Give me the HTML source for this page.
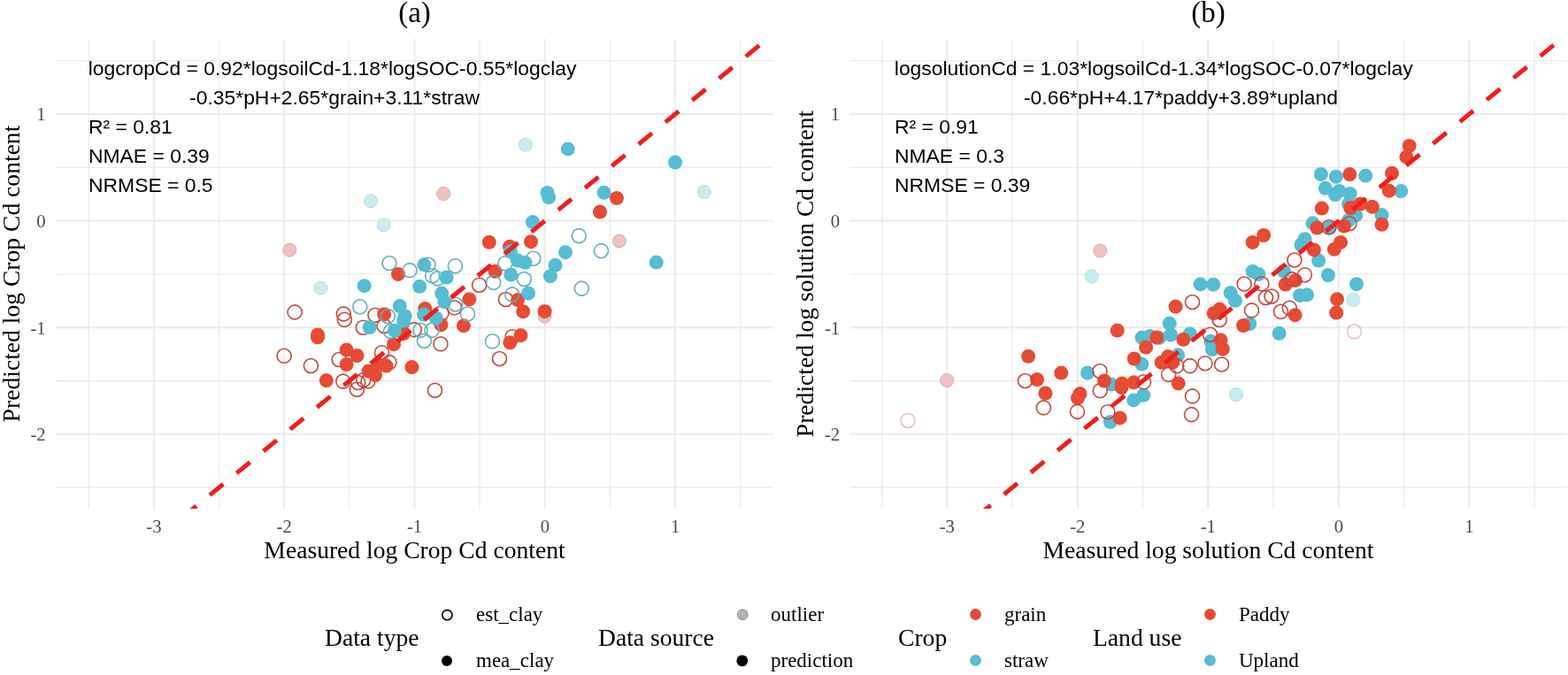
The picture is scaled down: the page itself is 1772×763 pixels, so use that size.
<!DOCTYPE html>
<html><head><meta charset="utf-8"><style>
html,body{margin:0;padding:0;background:#fff;width:1772px;height:763px;overflow:hidden}
svg{display:block}
.tk{font-family:"Liberation Serif",serif;font-size:20.7px;fill:#4D4D4D}
.ti{font-family:"Liberation Serif",serif;font-size:33px;fill:#000}
.ax{font-family:"Liberation Serif",serif;font-size:27.6px;fill:#000}
.lt{font-family:"Liberation Serif",serif;font-size:27.6px;fill:#000}
.ll{font-family:"Liberation Serif",serif;font-size:23px;fill:#000}
.an{font-family:"Liberation Sans",sans-serif;font-size:22.9px;fill:#000}
</style></head><body>
<svg width="1772" height="763" viewBox="0 0 1772 763">
<rect width="1772" height="763" fill="#fff"/>
<clipPath id="cl"><rect x="63" y="44" width="811" height="531"/></clipPath>
<line x1="100.2" y1="44" x2="100.2" y2="575" stroke="#EBEBEB" stroke-width="1.3"/>
<line x1="247.5" y1="44" x2="247.5" y2="575" stroke="#EBEBEB" stroke-width="1.3"/>
<line x1="394.8" y1="44" x2="394.8" y2="575" stroke="#EBEBEB" stroke-width="1.3"/>
<line x1="542.1" y1="44" x2="542.1" y2="575" stroke="#EBEBEB" stroke-width="1.3"/>
<line x1="689.4" y1="44" x2="689.4" y2="575" stroke="#EBEBEB" stroke-width="1.3"/>
<line x1="836.8" y1="44" x2="836.8" y2="575" stroke="#EBEBEB" stroke-width="1.3"/>
<line x1="63" y1="68.7" x2="874" y2="68.7" stroke="#EBEBEB" stroke-width="1.3"/>
<line x1="63" y1="189.3" x2="874" y2="189.3" stroke="#EBEBEB" stroke-width="1.3"/>
<line x1="63" y1="309.9" x2="874" y2="309.9" stroke="#EBEBEB" stroke-width="1.3"/>
<line x1="63" y1="430.5" x2="874" y2="430.5" stroke="#EBEBEB" stroke-width="1.3"/>
<line x1="63" y1="551.0" x2="874" y2="551.0" stroke="#EBEBEB" stroke-width="1.3"/>
<line x1="173.9" y1="44" x2="173.9" y2="575" stroke="#EBEBEB" stroke-width="2"/>
<line x1="321.2" y1="44" x2="321.2" y2="575" stroke="#EBEBEB" stroke-width="2"/>
<line x1="468.5" y1="44" x2="468.5" y2="575" stroke="#EBEBEB" stroke-width="2"/>
<line x1="615.8" y1="44" x2="615.8" y2="575" stroke="#EBEBEB" stroke-width="2"/>
<line x1="763.1" y1="44" x2="763.1" y2="575" stroke="#EBEBEB" stroke-width="2"/>
<line x1="63" y1="129.0" x2="874" y2="129.0" stroke="#EBEBEB" stroke-width="2"/>
<line x1="63" y1="249.6" x2="874" y2="249.6" stroke="#EBEBEB" stroke-width="2"/>
<line x1="63" y1="370.2" x2="874" y2="370.2" stroke="#EBEBEB" stroke-width="2"/>
<line x1="63" y1="490.7" x2="874" y2="490.7" stroke="#EBEBEB" stroke-width="2"/>
<clipPath id="cr"><rect x="960.5" y="44" width="810.0999999999999" height="531"/></clipPath>
<line x1="996.5" y1="44" x2="996.5" y2="575" stroke="#EBEBEB" stroke-width="1.3"/>
<line x1="1144.0" y1="44" x2="1144.0" y2="575" stroke="#EBEBEB" stroke-width="1.3"/>
<line x1="1291.5" y1="44" x2="1291.5" y2="575" stroke="#EBEBEB" stroke-width="1.3"/>
<line x1="1439.0" y1="44" x2="1439.0" y2="575" stroke="#EBEBEB" stroke-width="1.3"/>
<line x1="1586.5" y1="44" x2="1586.5" y2="575" stroke="#EBEBEB" stroke-width="1.3"/>
<line x1="1734.0" y1="44" x2="1734.0" y2="575" stroke="#EBEBEB" stroke-width="1.3"/>
<line x1="960.5" y1="68.7" x2="1770.6" y2="68.7" stroke="#EBEBEB" stroke-width="1.3"/>
<line x1="960.5" y1="189.3" x2="1770.6" y2="189.3" stroke="#EBEBEB" stroke-width="1.3"/>
<line x1="960.5" y1="309.9" x2="1770.6" y2="309.9" stroke="#EBEBEB" stroke-width="1.3"/>
<line x1="960.5" y1="430.5" x2="1770.6" y2="430.5" stroke="#EBEBEB" stroke-width="1.3"/>
<line x1="960.5" y1="551.0" x2="1770.6" y2="551.0" stroke="#EBEBEB" stroke-width="1.3"/>
<line x1="1070.3" y1="44" x2="1070.3" y2="575" stroke="#EBEBEB" stroke-width="2"/>
<line x1="1217.8" y1="44" x2="1217.8" y2="575" stroke="#EBEBEB" stroke-width="2"/>
<line x1="1365.3" y1="44" x2="1365.3" y2="575" stroke="#EBEBEB" stroke-width="2"/>
<line x1="1512.8" y1="44" x2="1512.8" y2="575" stroke="#EBEBEB" stroke-width="2"/>
<line x1="1660.3" y1="44" x2="1660.3" y2="575" stroke="#EBEBEB" stroke-width="2"/>
<line x1="960.5" y1="129.0" x2="1770.6" y2="129.0" stroke="#EBEBEB" stroke-width="2"/>
<line x1="960.5" y1="249.6" x2="1770.6" y2="249.6" stroke="#EBEBEB" stroke-width="2"/>
<line x1="960.5" y1="370.2" x2="1770.6" y2="370.2" stroke="#EBEBEB" stroke-width="2"/>
<line x1="960.5" y1="490.7" x2="1770.6" y2="490.7" stroke="#EBEBEB" stroke-width="2"/>
<text x="173.9" y="601.9" class="tk" text-anchor="middle">-3</text>
<text x="321.2" y="601.9" class="tk" text-anchor="middle">-2</text>
<text x="468.5" y="601.9" class="tk" text-anchor="middle">-1</text>
<text x="615.8" y="601.9" class="tk" text-anchor="middle">0</text>
<text x="763.1" y="601.9" class="tk" text-anchor="middle">1</text>
<text x="51.7" y="136.3" class="tk" text-anchor="end">1</text>
<text x="51.7" y="256.9" class="tk" text-anchor="end">0</text>
<text x="51.7" y="377.5" class="tk" text-anchor="end">-1</text>
<text x="51.7" y="498.0" class="tk" text-anchor="end">-2</text>
<text x="1070.3" y="601.9" class="tk" text-anchor="middle">-3</text>
<text x="1217.8" y="601.9" class="tk" text-anchor="middle">-2</text>
<text x="1365.3" y="601.9" class="tk" text-anchor="middle">-1</text>
<text x="1512.8" y="601.9" class="tk" text-anchor="middle">0</text>
<text x="1660.3" y="601.9" class="tk" text-anchor="middle">1</text>
<text x="949.2" y="136.3" class="tk" text-anchor="end">1</text>
<text x="949.2" y="256.9" class="tk" text-anchor="end">0</text>
<text x="949.2" y="377.5" class="tk" text-anchor="end">-1</text>
<text x="949.2" y="498.0" class="tk" text-anchor="end">-2</text>
<g clip-path="url(#cl)">
<circle cx="501.2" cy="219.0" r="7.6" fill="#EDC3C0" stroke="#DDAEAD" stroke-width="1"/>
<circle cx="327.3" cy="282.6" r="7.6" fill="#EDC3C0" stroke="#DDAEAD" stroke-width="1"/>
<circle cx="700.0" cy="272.5" r="7.6" fill="#EDC3C0" stroke="#DDAEAD" stroke-width="1"/>
<circle cx="615.6" cy="357.5" r="7.6" fill="#EDC3C0" stroke="#DDAEAD" stroke-width="1"/>
<circle cx="419.0" cy="227.2" r="7.6" fill="#C8EDF0" stroke="#B8E0E4" stroke-width="1"/>
<circle cx="593.9" cy="163.6" r="7.6" fill="#C8EDF0" stroke="#B8E0E4" stroke-width="1"/>
<circle cx="795.9" cy="217.1" r="7.6" fill="#C8EDF0" stroke="#B8E0E4" stroke-width="1"/>
<circle cx="433.7" cy="254.4" r="7.6" fill="#C8EDF0" stroke="#B8E0E4" stroke-width="1"/>
<circle cx="362.3" cy="325.5" r="7.6" fill="#C8EDF0" stroke="#B8E0E4" stroke-width="1"/>
<circle cx="333.1" cy="352.9" r="8.0" fill="none" stroke="#C4483D" stroke-width="1.6"/>
<circle cx="388.3" cy="354.9" r="8.0" fill="none" stroke="#C4483D" stroke-width="1.6"/>
<circle cx="389.3" cy="361.3" r="8.0" fill="none" stroke="#C4483D" stroke-width="1.6"/>
<circle cx="410.3" cy="370.2" r="8.0" fill="none" stroke="#C4483D" stroke-width="1.6"/>
<circle cx="423.9" cy="356.2" r="8.0" fill="none" stroke="#C4483D" stroke-width="1.6"/>
<circle cx="434.0" cy="368.5" r="8.0" fill="none" stroke="#C4483D" stroke-width="1.6"/>
<circle cx="321.1" cy="402.3" r="8.0" fill="none" stroke="#C4483D" stroke-width="1.6"/>
<circle cx="351.4" cy="413.5" r="8.0" fill="none" stroke="#C4483D" stroke-width="1.6"/>
<circle cx="383.2" cy="406.5" r="8.0" fill="none" stroke="#C4483D" stroke-width="1.6"/>
<circle cx="387.8" cy="431.1" r="8.0" fill="none" stroke="#C4483D" stroke-width="1.6"/>
<circle cx="403.4" cy="440.2" r="8.0" fill="none" stroke="#C4483D" stroke-width="1.6"/>
<circle cx="404.7" cy="432.5" r="8.0" fill="none" stroke="#C4483D" stroke-width="1.6"/>
<circle cx="410.8" cy="429.5" r="8.0" fill="none" stroke="#C4483D" stroke-width="1.6"/>
<circle cx="416.0" cy="430.8" r="8.0" fill="none" stroke="#C4483D" stroke-width="1.6"/>
<circle cx="431.5" cy="398.7" r="8.0" fill="none" stroke="#C4483D" stroke-width="1.6"/>
<circle cx="440.0" cy="409.6" r="8.0" fill="none" stroke="#C4483D" stroke-width="1.6"/>
<circle cx="468.3" cy="372.6" r="8.0" fill="none" stroke="#C4483D" stroke-width="1.6"/>
<circle cx="498.0" cy="388.8" r="8.0" fill="none" stroke="#C4483D" stroke-width="1.6"/>
<circle cx="491.5" cy="441.2" r="8.0" fill="none" stroke="#C4483D" stroke-width="1.6"/>
<circle cx="564.5" cy="405.5" r="8.0" fill="none" stroke="#C4483D" stroke-width="1.6"/>
<circle cx="541.6" cy="322.2" r="8.0" fill="none" stroke="#C4483D" stroke-width="1.6"/>
<circle cx="571.5" cy="338.5" r="8.0" fill="none" stroke="#C4483D" stroke-width="1.6"/>
<circle cx="579.0" cy="380.7" r="8.0" fill="none" stroke="#C4483D" stroke-width="1.6"/>
<circle cx="513.6" cy="347.8" r="8.0" fill="none" stroke="#C4483D" stroke-width="1.6"/>
<circle cx="499.0" cy="354.0" r="8.0" fill="none" stroke="#C4483D" stroke-width="1.6"/>
<circle cx="697.0" cy="223.9" r="8" fill="#E64B35"/>
<circle cx="678.0" cy="239.5" r="8" fill="#E64B35"/>
<circle cx="450.0" cy="309.9" r="8" fill="#E64B35"/>
<circle cx="552.8" cy="273.8" r="8" fill="#E64B35"/>
<circle cx="576.0" cy="278.8" r="8" fill="#E64B35"/>
<circle cx="600.0" cy="273.2" r="8" fill="#E64B35"/>
<circle cx="559.6" cy="306.8" r="8" fill="#E64B35"/>
<circle cx="359.0" cy="378.5" r="8" fill="#E64B35"/>
<circle cx="359.0" cy="381.3" r="8" fill="#E64B35"/>
<circle cx="434.1" cy="355.2" r="8" fill="#E64B35"/>
<circle cx="456.0" cy="377.0" r="8" fill="#E64B35"/>
<circle cx="480.3" cy="349.0" r="8" fill="#E64B35"/>
<circle cx="498.5" cy="367.2" r="8" fill="#E64B35"/>
<circle cx="391.6" cy="395.4" r="8" fill="#E64B35"/>
<circle cx="403.5" cy="402.0" r="8" fill="#E64B35"/>
<circle cx="391.6" cy="412.0" r="8" fill="#E64B35"/>
<circle cx="368.8" cy="430.1" r="8" fill="#E64B35"/>
<circle cx="445.0" cy="389.2" r="8" fill="#E64B35"/>
<circle cx="436.5" cy="413.6" r="8" fill="#E64B35"/>
<circle cx="428.7" cy="412.3" r="8" fill="#E64B35"/>
<circle cx="416.5" cy="419.5" r="8" fill="#E64B35"/>
<circle cx="424.0" cy="424.0" r="8" fill="#E64B35"/>
<circle cx="465.4" cy="415.1" r="8" fill="#E64B35"/>
<circle cx="530.4" cy="338.3" r="8" fill="#E64B35"/>
<circle cx="523.9" cy="368.2" r="8" fill="#E64B35"/>
<circle cx="585.2" cy="339.0" r="8" fill="#E64B35"/>
<circle cx="591.2" cy="352.2" r="8" fill="#E64B35"/>
<circle cx="615.6" cy="351.9" r="8" fill="#E64B35"/>
<circle cx="588.5" cy="379.1" r="8" fill="#E64B35"/>
<circle cx="576.3" cy="387.3" r="8" fill="#E64B35"/>
<circle cx="440.0" cy="297.5" r="8.0" fill="none" stroke="#62AEB8" stroke-width="1.6"/>
<circle cx="463.1" cy="305.6" r="8.0" fill="none" stroke="#62AEB8" stroke-width="1.6"/>
<circle cx="488.7" cy="311.7" r="8.0" fill="none" stroke="#62AEB8" stroke-width="1.6"/>
<circle cx="494.3" cy="314.9" r="8.0" fill="none" stroke="#62AEB8" stroke-width="1.6"/>
<circle cx="514.4" cy="300.7" r="8.0" fill="none" stroke="#62AEB8" stroke-width="1.6"/>
<circle cx="406.8" cy="346.8" r="8.0" fill="none" stroke="#62AEB8" stroke-width="1.6"/>
<circle cx="441.5" cy="374.5" r="8.0" fill="none" stroke="#62AEB8" stroke-width="1.6"/>
<circle cx="475.0" cy="373.3" r="8.0" fill="none" stroke="#62AEB8" stroke-width="1.6"/>
<circle cx="488.0" cy="373.3" r="8.0" fill="none" stroke="#62AEB8" stroke-width="1.6"/>
<circle cx="479.4" cy="385.2" r="8.0" fill="none" stroke="#62AEB8" stroke-width="1.6"/>
<circle cx="514.7" cy="344.0" r="8.0" fill="none" stroke="#62AEB8" stroke-width="1.6"/>
<circle cx="528.5" cy="354.8" r="8.0" fill="none" stroke="#62AEB8" stroke-width="1.6"/>
<circle cx="570.9" cy="297.7" r="8.0" fill="none" stroke="#62AEB8" stroke-width="1.6"/>
<circle cx="602.8" cy="292.2" r="8.0" fill="none" stroke="#62AEB8" stroke-width="1.6"/>
<circle cx="557.7" cy="319.3" r="8.0" fill="none" stroke="#62AEB8" stroke-width="1.6"/>
<circle cx="592.4" cy="315.5" r="8.0" fill="none" stroke="#62AEB8" stroke-width="1.6"/>
<circle cx="578.8" cy="332.9" r="8.0" fill="none" stroke="#62AEB8" stroke-width="1.6"/>
<circle cx="556.5" cy="385.8" r="8.0" fill="none" stroke="#62AEB8" stroke-width="1.6"/>
<circle cx="654.3" cy="266.6" r="8.0" fill="none" stroke="#62AEB8" stroke-width="1.6"/>
<circle cx="679.4" cy="283.6" r="8.0" fill="none" stroke="#62AEB8" stroke-width="1.6"/>
<circle cx="657.3" cy="326.1" r="8.0" fill="none" stroke="#62AEB8" stroke-width="1.6"/>
<circle cx="641.8" cy="168.4" r="8" fill="#56BDD3"/>
<circle cx="763.0" cy="183.6" r="8" fill="#56BDD3"/>
<circle cx="618.5" cy="218" r="8" fill="#56BDD3"/>
<circle cx="620.1" cy="223.2" r="8" fill="#56BDD3"/>
<circle cx="682.7" cy="217.8" r="8" fill="#56BDD3"/>
<circle cx="479.4" cy="299.3" r="8" fill="#56BDD3"/>
<circle cx="504.6" cy="313.6" r="8" fill="#56BDD3"/>
<circle cx="474.2" cy="323.8" r="8" fill="#56BDD3"/>
<circle cx="411.7" cy="323.2" r="8" fill="#56BDD3"/>
<circle cx="499.2" cy="331.6" r="8" fill="#56BDD3"/>
<circle cx="502.2" cy="341.1" r="8" fill="#56BDD3"/>
<circle cx="602.0" cy="251.1" r="8" fill="#56BDD3"/>
<circle cx="577.0" cy="284.3" r="8" fill="#56BDD3"/>
<circle cx="639.0" cy="285.2" r="8" fill="#56BDD3"/>
<circle cx="627.5" cy="299.8" r="8" fill="#56BDD3"/>
<circle cx="621.9" cy="312.2" r="8" fill="#56BDD3"/>
<circle cx="585.0" cy="294.6" r="8" fill="#56BDD3"/>
<circle cx="593.4" cy="296.8" r="8" fill="#56BDD3"/>
<circle cx="577.3" cy="310.5" r="8" fill="#56BDD3"/>
<circle cx="597.1" cy="331.4" r="8" fill="#56BDD3"/>
<circle cx="741.7" cy="296.6" r="8" fill="#56BDD3"/>
<circle cx="417.7" cy="370.0" r="8" fill="#56BDD3"/>
<circle cx="451.8" cy="346.1" r="8" fill="#56BDD3"/>
<circle cx="457.7" cy="357.2" r="8" fill="#56BDD3"/>
<circle cx="456.2" cy="362.8" r="8" fill="#56BDD3"/>
<circle cx="445.9" cy="373.5" r="8" fill="#56BDD3"/>
<circle cx="479.0" cy="355.6" r="8" fill="#56BDD3"/>
<circle cx="492.8" cy="359.5" r="8" fill="#56BDD3"/>
<circle cx="484.0" cy="299.3" r="8.0" fill="none" stroke="#62AEB8" stroke-width="1.6"/>
<circle cx="438.3" cy="357.5" r="8.0" fill="none" stroke="#62AEB8" stroke-width="1.6"/>
</g>
<g clip-path="url(#cr)">
<circle cx="1070.1" cy="430.0" r="7.6" fill="#EDC3C0" stroke="#DDAEAD" stroke-width="1"/>
<circle cx="1243.3" cy="283.5" r="7.6" fill="#EDC3C0" stroke="#DDAEAD" stroke-width="1"/>
<circle cx="1233.8" cy="312.2" r="7.6" fill="#C8EDF0" stroke="#B8E0E4" stroke-width="1"/>
<circle cx="1396.9" cy="446.1" r="7.6" fill="#C8EDF0" stroke="#B8E0E4" stroke-width="1"/>
<circle cx="1529.4" cy="338.8" r="7.6" fill="#C8EDF0" stroke="#B8E0E4" stroke-width="1"/>
<circle cx="1026.0" cy="475.5" r="8.0" fill="none" stroke="#C4483D" stroke-opacity="0.35" stroke-width="1.6"/>
<circle cx="1530.5" cy="374.8" r="8.0" fill="none" stroke="#C4483D" stroke-opacity="0.35" stroke-width="1.6"/>
<circle cx="1229.0" cy="421.5" r="8" fill="#56BDD3"/>
<circle cx="1256.2" cy="434.6" r="8" fill="#56BDD3"/>
<circle cx="1292.2" cy="446.8" r="8" fill="#56BDD3"/>
<circle cx="1281.2" cy="452.4" r="8" fill="#56BDD3"/>
<circle cx="1254.8" cy="476.9" r="8" fill="#56BDD3"/>
<circle cx="1290.4" cy="411.6" r="8" fill="#56BDD3"/>
<circle cx="1331.1" cy="401.3" r="8" fill="#56BDD3"/>
<circle cx="1290.6" cy="381.6" r="8" fill="#56BDD3"/>
<circle cx="1299.6" cy="380.0" r="8" fill="#56BDD3"/>
<circle cx="1310.0" cy="381.9" r="8" fill="#56BDD3"/>
<circle cx="1321.7" cy="365.6" r="8" fill="#56BDD3"/>
<circle cx="1323.2" cy="378.5" r="8" fill="#56BDD3"/>
<circle cx="1344.8" cy="377.5" r="8" fill="#56BDD3"/>
<circle cx="1368.3" cy="385.8" r="8" fill="#56BDD3"/>
<circle cx="1370.0" cy="395.0" r="8" fill="#56BDD3"/>
<circle cx="1356.5" cy="321.3" r="8" fill="#56BDD3"/>
<circle cx="1371.1" cy="321.7" r="8" fill="#56BDD3"/>
<circle cx="1390.6" cy="331.0" r="8" fill="#56BDD3"/>
<circle cx="1395.9" cy="339.8" r="8" fill="#56BDD3"/>
<circle cx="1415.6" cy="306.7" r="8" fill="#56BDD3"/>
<circle cx="1422.3" cy="310.0" r="8" fill="#56BDD3"/>
<circle cx="1412.2" cy="366.0" r="8" fill="#56BDD3"/>
<circle cx="1451.1" cy="306.5" r="8" fill="#56BDD3"/>
<circle cx="1490.1" cy="294.6" r="8" fill="#56BDD3"/>
<circle cx="1500.9" cy="311.0" r="8" fill="#56BDD3"/>
<circle cx="1469.1" cy="333.9" r="8" fill="#56BDD3"/>
<circle cx="1477.0" cy="333.3" r="8" fill="#56BDD3"/>
<circle cx="1533.0" cy="321.2" r="8" fill="#56BDD3"/>
<circle cx="1445.6" cy="376.8" r="8" fill="#56BDD3"/>
<circle cx="1474.6" cy="270.2" r="8" fill="#56BDD3"/>
<circle cx="1470.4" cy="276.5" r="8" fill="#56BDD3"/>
<circle cx="1483.6" cy="252.3" r="8" fill="#56BDD3"/>
<circle cx="1502.6" cy="257.5" r="8" fill="#56BDD3"/>
<circle cx="1524.2" cy="249.0" r="8" fill="#56BDD3"/>
<circle cx="1532.1" cy="243.7" r="8" fill="#56BDD3"/>
<circle cx="1492.8" cy="197.0" r="8" fill="#56BDD3"/>
<circle cx="1509.9" cy="199.7" r="8" fill="#56BDD3"/>
<circle cx="1543.2" cy="198.6" r="8" fill="#56BDD3"/>
<circle cx="1583.3" cy="216.1" r="8" fill="#56BDD3"/>
<circle cx="1497.9" cy="212.8" r="8" fill="#56BDD3"/>
<circle cx="1509.0" cy="220.0" r="8" fill="#56BDD3"/>
<circle cx="1513.4" cy="216.0" r="8" fill="#56BDD3"/>
<circle cx="1525.7" cy="219.0" r="8" fill="#56BDD3"/>
<circle cx="1524.2" cy="230.5" r="8" fill="#56BDD3"/>
<circle cx="1561.5" cy="243.1" r="8" fill="#56BDD3"/>
<circle cx="1162.1" cy="402.8" r="8" fill="#E64B35"/>
<circle cx="1172.0" cy="429.0" r="8" fill="#E64B35"/>
<circle cx="1199.2" cy="421.6" r="8" fill="#E64B35"/>
<circle cx="1181.4" cy="444.5" r="8" fill="#E64B35"/>
<circle cx="1220.5" cy="445.1" r="8" fill="#E64B35"/>
<circle cx="1218.0" cy="449.8" r="8" fill="#E64B35"/>
<circle cx="1247.9" cy="430.5" r="8" fill="#E64B35"/>
<circle cx="1268.0" cy="433.5" r="8" fill="#E64B35"/>
<circle cx="1267.5" cy="438.0" r="8" fill="#E64B35"/>
<circle cx="1281.2" cy="432.3" r="8" fill="#E64B35"/>
<circle cx="1265.6" cy="472.4" r="8" fill="#E64B35"/>
<circle cx="1281.7" cy="405.5" r="8" fill="#E64B35"/>
<circle cx="1295.1" cy="392.5" r="8" fill="#E64B35"/>
<circle cx="1312.7" cy="409.7" r="8" fill="#E64B35"/>
<circle cx="1319.9" cy="403.1" r="8" fill="#E64B35"/>
<circle cx="1325.2" cy="409.7" r="8" fill="#E64B35"/>
<circle cx="1331.7" cy="433.3" r="8" fill="#E64B35"/>
<circle cx="1337.3" cy="383.8" r="8" fill="#E64B35"/>
<circle cx="1381.8" cy="394.4" r="8" fill="#E64B35"/>
<circle cx="1379.5" cy="384.3" r="8" fill="#E64B35"/>
<circle cx="1262.7" cy="373.6" r="8" fill="#E64B35"/>
<circle cx="1307.1" cy="381.5" r="8" fill="#E64B35"/>
<circle cx="1328.5" cy="346.6" r="8" fill="#E64B35"/>
<circle cx="1371.7" cy="354.2" r="8" fill="#E64B35"/>
<circle cx="1378.3" cy="349.6" r="8" fill="#E64B35"/>
<circle cx="1405.1" cy="368.0" r="8" fill="#E64B35"/>
<circle cx="1452.7" cy="321.5" r="8" fill="#E64B35"/>
<circle cx="1463.9" cy="316.9" r="8" fill="#E64B35"/>
<circle cx="1463.6" cy="356.2" r="8" fill="#E64B35"/>
<circle cx="1511.1" cy="338.2" r="8" fill="#E64B35"/>
<circle cx="1510.2" cy="353.6" r="8" fill="#E64B35"/>
<circle cx="1428.1" cy="266.0" r="8" fill="#E64B35"/>
<circle cx="1415.6" cy="273.9" r="8" fill="#E64B35"/>
<circle cx="1484.9" cy="282.4" r="8" fill="#E64B35"/>
<circle cx="1493.8" cy="235.6" r="8" fill="#E64B35"/>
<circle cx="1488.5" cy="257.5" r="8" fill="#E64B35"/>
<circle cx="1518.9" cy="255.5" r="8" fill="#E64B35"/>
<circle cx="1515.0" cy="273.9" r="8" fill="#E64B35"/>
<circle cx="1507.8" cy="281.8" r="8" fill="#E64B35"/>
<circle cx="1525.3" cy="197.1" r="8" fill="#E64B35"/>
<circle cx="1573.0" cy="195.8" r="8" fill="#E64B35"/>
<circle cx="1569.8" cy="215.7" r="8" fill="#E64B35"/>
<circle cx="1526.2" cy="235.0" r="8" fill="#E64B35"/>
<circle cx="1537.3" cy="230.6" r="8" fill="#E64B35"/>
<circle cx="1550.9" cy="233.8" r="8" fill="#E64B35"/>
<circle cx="1561.5" cy="253.8" r="8" fill="#E64B35"/>
<circle cx="1592.7" cy="164.9" r="8" fill="#E64B35"/>
<circle cx="1589.4" cy="177.4" r="8" fill="#E64B35"/>
<circle cx="1158.5" cy="430.5" r="8.0" fill="none" stroke="#C4483D" stroke-width="1.6"/>
<circle cx="1179.3" cy="460.9" r="8.0" fill="none" stroke="#C4483D" stroke-width="1.6"/>
<circle cx="1217.5" cy="465.4" r="8.0" fill="none" stroke="#C4483D" stroke-width="1.6"/>
<circle cx="1243.0" cy="419.5" r="8.0" fill="none" stroke="#C4483D" stroke-width="1.6"/>
<circle cx="1243.3" cy="441.6" r="8.0" fill="none" stroke="#C4483D" stroke-width="1.6"/>
<circle cx="1251.8" cy="465.7" r="8.0" fill="none" stroke="#C4483D" stroke-width="1.6"/>
<circle cx="1292.5" cy="431.8" r="8.0" fill="none" stroke="#C4483D" stroke-width="1.6"/>
<circle cx="1329.8" cy="413.6" r="8.0" fill="none" stroke="#C4483D" stroke-width="1.6"/>
<circle cx="1320.6" cy="423.4" r="8.0" fill="none" stroke="#C4483D" stroke-width="1.6"/>
<circle cx="1344.8" cy="413.6" r="8.0" fill="none" stroke="#C4483D" stroke-width="1.6"/>
<circle cx="1361.9" cy="410.7" r="8.0" fill="none" stroke="#C4483D" stroke-width="1.6"/>
<circle cx="1380.6" cy="412.0" r="8.0" fill="none" stroke="#C4483D" stroke-width="1.6"/>
<circle cx="1347.5" cy="447.9" r="8.0" fill="none" stroke="#C4483D" stroke-width="1.6"/>
<circle cx="1346.5" cy="468.6" r="8.0" fill="none" stroke="#C4483D" stroke-width="1.6"/>
<circle cx="1347.5" cy="341.5" r="8.0" fill="none" stroke="#C4483D" stroke-width="1.6"/>
<circle cx="1378.2" cy="361.5" r="8.0" fill="none" stroke="#C4483D" stroke-width="1.6"/>
<circle cx="1367.6" cy="378.2" r="8.0" fill="none" stroke="#C4483D" stroke-width="1.6"/>
<circle cx="1406.1" cy="321.0" r="8.0" fill="none" stroke="#C4483D" stroke-width="1.6"/>
<circle cx="1425.9" cy="320.8" r="8.0" fill="none" stroke="#C4483D" stroke-width="1.6"/>
<circle cx="1430.5" cy="336.5" r="8.0" fill="none" stroke="#C4483D" stroke-width="1.6"/>
<circle cx="1437.0" cy="335.0" r="8.0" fill="none" stroke="#C4483D" stroke-width="1.6"/>
<circle cx="1414.5" cy="350.9" r="8.0" fill="none" stroke="#C4483D" stroke-width="1.6"/>
<circle cx="1460.0" cy="315.6" r="8.0" fill="none" stroke="#C4483D" stroke-width="1.6"/>
<circle cx="1474.4" cy="310.7" r="8.0" fill="none" stroke="#C4483D" stroke-width="1.6"/>
<circle cx="1462.9" cy="294.0" r="8.0" fill="none" stroke="#C4483D" stroke-width="1.6"/>
<circle cx="1447.5" cy="352.3" r="8.0" fill="none" stroke="#C4483D" stroke-width="1.6"/>
<circle cx="1457.3" cy="348.3" r="8.0" fill="none" stroke="#C4483D" stroke-width="1.6"/>
<circle cx="1501.9" cy="256.8" r="8.0" fill="none" stroke="#C4483D" stroke-width="1.6"/>
<circle cx="1524.8" cy="252.7" r="8.0" fill="none" stroke="#C4483D" stroke-width="1.6"/>
</g>
<g clip-path="url(#cl)"><line x1="63.0" y1="702.1" x2="874.0" y2="38.3" stroke="#F01E1E" stroke-width="5" stroke-dasharray="19.57 19.57" stroke-dashoffset="9.9"/></g>
<g clip-path="url(#cr)"><line x1="960.5" y1="701.1" x2="1770.6" y2="38.9" stroke="#F01E1E" stroke-width="5" stroke-dasharray="19.57 19.57" stroke-dashoffset="9.9"/></g>
<text x="468.5" y="25.3" class="ti" text-anchor="middle">(a)</text>
<text x="1365.5" y="25.3" class="ti" text-anchor="middle">(b)</text>
<text x="468.5" y="631" class="ax" text-anchor="middle">Measured log Crop Cd content</text>
<text x="1365.5" y="631" class="ax" text-anchor="middle">Measured log solution Cd content</text>
<text transform="translate(22,309.5) rotate(-90)" class="ax" text-anchor="middle">Predicted log Crop Cd content</text>
<text transform="translate(919,309.5) rotate(-90)" class="ax" text-anchor="middle">Predicted log solution Cd content</text>
<text x="375.6" y="85" class="an" text-anchor="middle">logcropCd = 0.92*logsoilCd-1.18*logSOC-0.55*logclay</text>
<text x="378" y="118" class="an" text-anchor="middle">-0.35*pH+2.65*grain+3.11*straw</text>
<text x="100" y="151" class="an">R² = 0.81</text>
<text x="100" y="184" class="an">NMAE = 0.39</text>
<text x="100" y="217" class="an">NRMSE = 0.5</text>
<text x="1303.8" y="85" class="an" text-anchor="middle">logsolutionCd = 1.03*logsoilCd-1.34*logSOC-0.07*logclay</text>
<text x="1334.5" y="118" class="an" text-anchor="middle">-0.66*pH+4.17*paddy+3.89*upland</text>
<text x="1011" y="151" class="an">R² = 0.91</text>
<text x="1011" y="184" class="an">NMAE = 0.3</text>
<text x="1011" y="217" class="an">NRMSE = 0.39</text>
<text x="367" y="729.5" class="lt">Data type</text>
<circle cx="505.4" cy="695.2" r="5.6" fill="none" stroke="#000" stroke-width="1.6"/>
<circle cx="505" cy="746.9" r="6" fill="#000"/>
<text x="538" y="702" class="ll">est_clay</text>
<text x="538" y="754" class="ll">mea_clay</text>
<text x="676" y="729.5" class="lt">Data source</text>
<circle cx="839.2" cy="694.8" r="6.0" fill="#000" fill-opacity="0.3" stroke="#000" stroke-opacity="0.3" stroke-width="1"/>
<circle cx="838.8" cy="746.9" r="6.4" fill="#000"/>
<text x="871" y="702" class="ll">outlier</text>
<text x="871" y="754" class="ll">prediction</text>
<text x="1015" y="729.5" class="lt">Crop</text>
<circle cx="1102.5" cy="694.5" r="6.4" fill="#E64B35"/>
<circle cx="1102.5" cy="746.5" r="6.4" fill="#56BDD3"/>
<text x="1135" y="702" class="ll">grain</text>
<text x="1135" y="754" class="ll">straw</text>
<text x="1235" y="729.5" class="lt">Land use</text>
<circle cx="1367.5" cy="694.5" r="6.4" fill="#E64B35"/>
<circle cx="1367.5" cy="746.5" r="6.4" fill="#56BDD3"/>
<text x="1400" y="702" class="ll">Paddy</text>
<text x="1400" y="754" class="ll">Upland</text>
</svg>
</body></html>
